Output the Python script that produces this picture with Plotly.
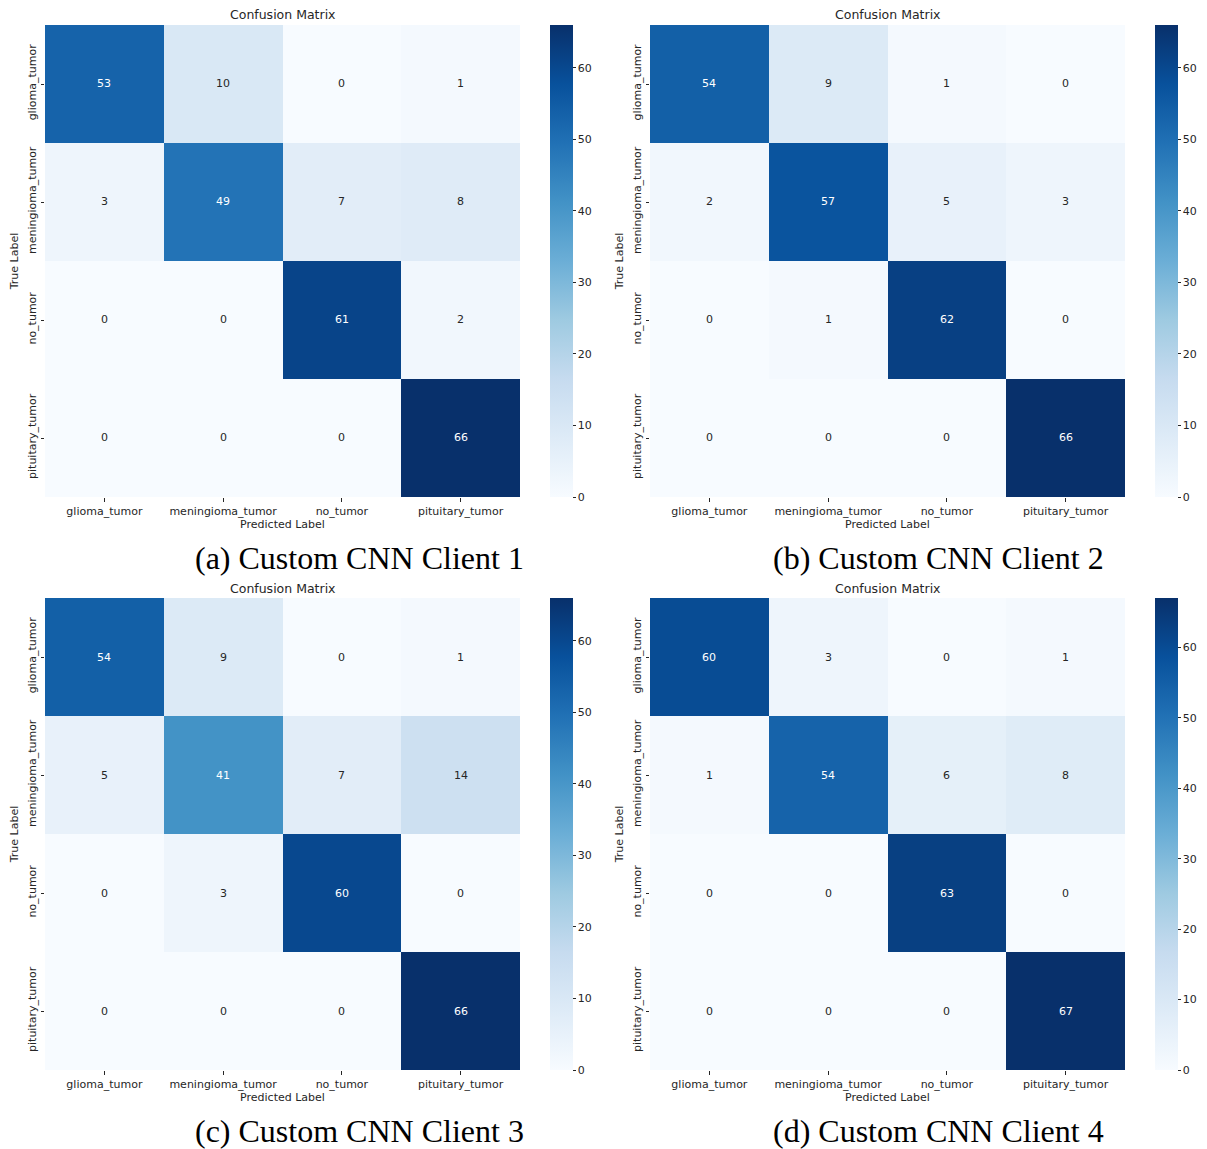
import plotly.graph_objects as go

W, H = 1207, 1149

classes = ["glioma_tumor", "meningioma_tumor", "no_tumor", "pituitary_tumor"]

cm_client1 = [[53, 10, 0, 1], [3, 49, 7, 8], [0, 0, 61, 2], [0, 0, 0, 66]]
cm_client2 = [[54, 9, 1, 0], [2, 57, 5, 3], [0, 1, 62, 0], [0, 0, 0, 66]]
cm_client3 = [[54, 9, 0, 1], [5, 41, 7, 14], [0, 3, 60, 0], [0, 0, 0, 66]]
cm_client4 = [[60, 3, 0, 1], [1, 54, 6, 8], [0, 0, 63, 0], [0, 0, 0, 67]]

captions = ["(a) Custom CNN Client 1", "(b) Custom CNN Client 2",
            "(c) Custom CNN Client 3", "(d) Custom CNN Client 4"]
matrices = [cm_client1, cm_client2, cm_client3, cm_client4]

# matplotlib "Blues" (ColorBrewer 9-class)
blues = ["#f7fbff", "#deebf7", "#c6dbef", "#9ecae1", "#6baed6",
         "#4292c6", "#2171b5", "#08519c", "#08306b"]
colorscale = [[i / 8, c] for i, c in enumerate(blues)]

# pixel boxes of each heatmap: (left, right, top, bottom)
boxes = [(45, 520, 25, 497), (650, 1125, 25, 497),
         (45, 520, 598, 1070), (650, 1125, 598, 1070)]
# horizontal centre of each sub-caption (pixels)
caption_cx = [359, 938, 359, 938]

sans = "DejaVu Sans"
ink = "#262626"

fig = go.Figure()
layout = dict(width=W, height=H,
              margin=dict(l=0, r=0, t=0, b=0, autoexpand=False),
              paper_bgcolor="white", plot_bgcolor="white",
              showlegend=False, annotations=[])


def px(x):
    return x / W


def py(y):
    return 1 - y / H


for k, (cm, cap, (l, r, t, b)) in enumerate(zip(matrices, captions, boxes)):
    n = k + 1
    xa = "x" if n == 1 else f"x{n}"
    ya = "y" if n == 1 else f"y{n}"
    zmax = max(max(row) for row in cm)
    fig.add_trace(go.Heatmap(
        z=cm, x=classes, y=classes, xaxis=xa, yaxis=ya,
        colorscale=colorscale, zmin=0, zmax=zmax,
        hoverongaps=False,
        colorbar=dict(
            x=px(r + 30), xanchor="left", y=py(t), yanchor="top",
            len=(b - t) / H, lenmode="fraction",
            thickness=23, thicknessmode="pixels",
            xpad=0, ypad=0,
            outlinewidth=0, tickmode="array",
            tickvals=[0, 10, 20, 30, 40, 50, 60],
            ticks="outside", ticklen=3, tickwidth=1, tickcolor=ink,
            tickfont=dict(family=sans, size=11, color=ink),
        ),
    ))
    axkey = "xaxis" if n == 1 else f"xaxis{n}"
    aykey = "yaxis" if n == 1 else f"yaxis{n}"
    layout[axkey] = dict(
        domain=[px(l), px(r)], anchor=ya, type="category",
        categoryorder="array", categoryarray=classes,
        showgrid=False, zeroline=False, showline=False,
        ticks="outside", ticklen=3.5, tickwidth=1, tickcolor=ink,
        tickfont=dict(family=sans, size=11, color=ink),
        title=dict(text="Predicted Label", standoff=3,
                   font=dict(family=sans, size=11, color=ink)),
    )
    layout[aykey] = dict(
        domain=[py(b), py(t)], anchor=xa, type="category",
        categoryorder="array", categoryarray=classes,
        autorange="reversed",
        showgrid=False, zeroline=False, showline=False,
        ticks="outside", ticklen=3.5, tickwidth=1, tickcolor=ink,
        tickangle=-90,
        tickfont=dict(family=sans, size=11, color=ink),
        title=dict(text="True Label", standoff=5,
                   font=dict(family=sans, size=11, color=ink)),
    )
    # cell value labels
    for i, row in enumerate(cm):
        for j, v in enumerate(row):
            layout["annotations"].append(dict(
                x=classes[j], y=classes[i], xref=xa, yref=ya,
                text=str(v), showarrow=False,
                font=dict(family=sans, size=11,
                          color="white" if v > 0.5 * zmax else ink),
            ))
    # panel title
    layout["annotations"].append(dict(
        x=px((l + r) / 2), y=py(t - 10), xref="paper", yref="paper",
        text="Confusion Matrix", showarrow=False,
        xanchor="center", yanchor="middle",
        font=dict(family=sans, size=12.5, color=ink),
    ))
    # caption below the panel
    layout["annotations"].append(dict(
        x=px(caption_cx[k]), y=py(b + 61), xref="paper", yref="paper",
        text=cap, showarrow=False, xanchor="center", yanchor="middle",
        font=dict(family="Liberation Serif", size=32, color="black"),
    ))

fig.update_layout(**layout)
fig.write_html("out.html")
